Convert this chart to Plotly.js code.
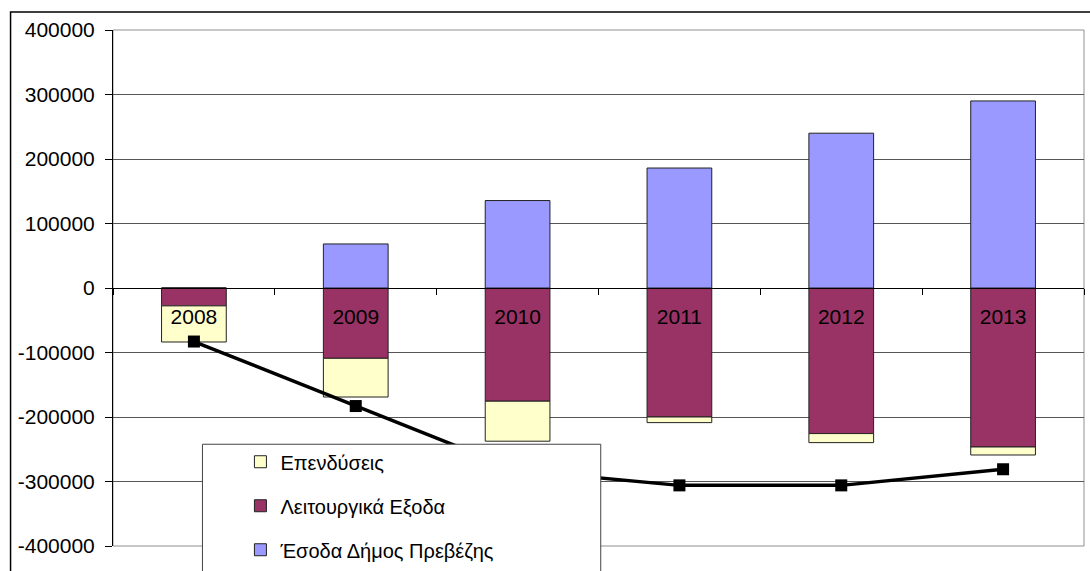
<!DOCTYPE html>
<html>
<head>
<meta charset="utf-8">
<script src="https://cdn.plot.ly/plotly-3.0.1.min.js"></script>
<style>
html,body{margin:0;padding:0;background:#fff;}
#chart{width:1090px;height:571px;}
</style>
</head>
<body>
<div id="chart"></div>
<script>
// ---- data ----
var years = ["2008", "2009", "2010", "2011", "2012", "2013"];
var leitourgika = [-27700, -109000, -175500, -200000, -225700, -246500];
var ependyseis = [-56000, -60000, -62000, -8700, -14000, -12400];
var esoda = [0, 68300, 135600, 186000, 240000, 290000];
var synolo = [-83000, -183000, -282600, -306000, -306000, -281000];
var yTickVals = [400000, 300000, 200000, 100000, 0, -100000, -200000, -300000, -400000];
var yTickText = ["400000", "300000", "200000", "100000", "0", "-100000", "-200000", "-300000", "-400000"];

var FONT = "Arial, 'Liberation Sans', sans-serif";
var barLine = {color: "#222222", width: 1};

var traces = [
  {type: "bar", name: "Λειτουργικά Εξοδα", x: years, y: leitourgika,
   marker: {color: "#993366", line: barLine}, legendrank: 2, legendgroup: "b", hoverinfo: "x+y+name"},
  {type: "bar", name: "Επενδύσεις", x: years, y: ependyseis,
   marker: {color: "#FFFFCC", line: barLine}, legendrank: 1, legendgroup: "a", hoverinfo: "x+y+name"},
  {type: "bar", name: "Έσοδα Δήμος Πρεβέζης", x: years, y: esoda,
   marker: {color: "#9999FF", line: barLine}, legendrank: 3, legendgroup: "c", hoverinfo: "x+y+name"},
  {type: "scatter", mode: "lines+markers", name: "Σύνολο", x: years, y: synolo,
   line: {color: "#000000", width: 3.5}, marker: {symbol: "square", size: 12, color: "#000000"},
   showlegend: false}
];

var L = 112.5, R = 1084, T = 30, B = 545.7, W = 1090, H = 571;
function px(x){ return (x - L) / (R - L); }
function py(y){ return (B - y) / (B - T); }

var layout = {
  width: W, height: H,
  margin: {l: L, r: W - R, t: T, b: H - B, pad: 0, autoexpand: false},
  paper_bgcolor: "#ffffff", plot_bgcolor: "#ffffff",
  font: {family: FONT, size: 21, color: "#000000"},
  barmode: "relative", bargap: 0.6,
  showlegend: true,
  legend: {x: px(240), y: py(442), xanchor: "left", yanchor: "top",
           bgcolor: "rgba(0,0,0,0)", borderwidth: 0,
           font: {family: FONT, size: 20, color: "#000000"},
           traceorder: "grouped", tracegroupgap: 15},
  xaxis: {type: "category", anchor: "free", position: 0.5,
          showline: true, linecolor: "#000000", linewidth: 1,
          ticks: "outside", ticklen: 6, tickcolor: "#000000", tickson: "boundaries",
          showgrid: false, zeroline: false, ticklabelstandoff: 10,
          tickfont: {family: FONT, size: 21, color: "#000000"}},
  yaxis: {range: [-400000, 400000], tickmode: "array", tickvals: yTickVals, ticktext: yTickText,
          showline: true, linecolor: "#000000", linewidth: 1,
          ticks: "outside", ticklen: 7, tickcolor: "#000000",
          showgrid: true, gridcolor: "#555555", gridwidth: 1, zeroline: false,
          ticklabelstandoff: 6,
          tickfont: {family: FONT, size: 21, color: "#000000"}},
  shapes: [
    {type: "rect", xref: "paper", yref: "paper", x0: px(10), x1: px(1100), y0: py(600), y1: py(12),
     line: {color: "#000000", width: 1.5}, fillcolor: "rgba(0,0,0,0)", layer: "below"},
    {type: "rect", xref: "paper", yref: "paper", x0: 0, x1: 1, y0: 0, y1: 1,
     line: {color: "#909090", width: 1}, fillcolor: "rgba(0,0,0,0)", layer: "below"},
    {type: "rect", xref: "paper", yref: "paper", x0: px(202), x1: px(600.5), y0: py(620), y1: py(444),
     line: {color: "#444444", width: 1}, fillcolor: "#ffffff", layer: "above"}
  ]
};

Plotly.newPlot("chart", traces, layout, {displayModeBar: false, responsive: false});
</script>
</body>
</html>
